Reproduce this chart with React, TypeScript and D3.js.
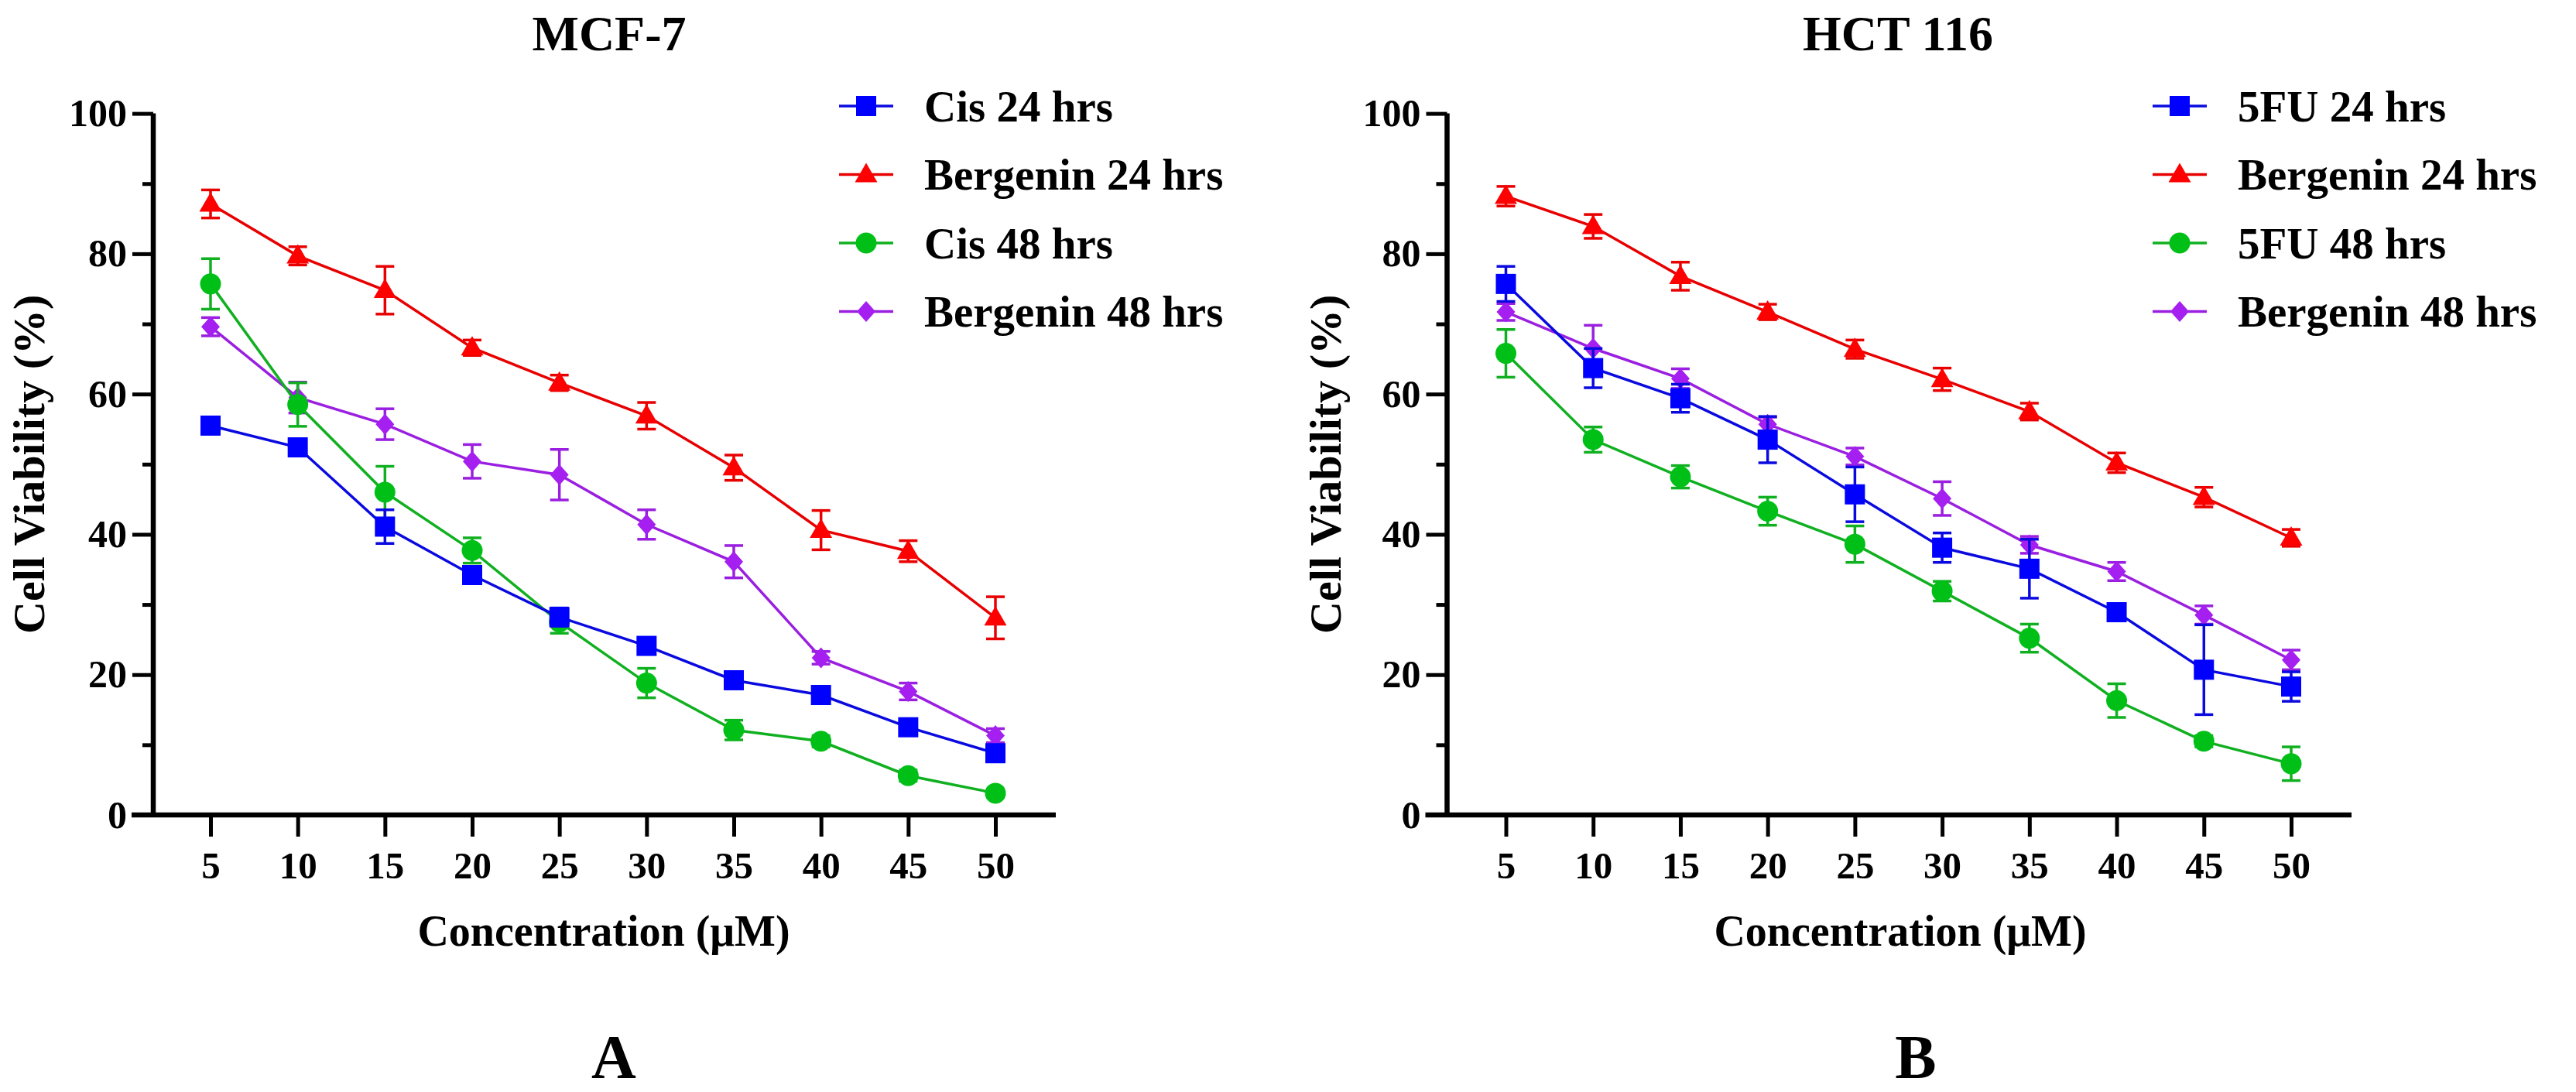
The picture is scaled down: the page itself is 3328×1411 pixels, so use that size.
import React, { useEffect, useRef } from 'react';
import * as d3 from 'd3';

// concentrations (uM)
const conc = [5, 10, 15, 20, 25, 30, 35, 40, 45, 50];
const yTicks = [0, 20, 40, 60, 80, 100];
const yMinor = [10, 30, 50, 70, 90];

// MCF-7
const cis24 = [55.5, 52.4, 41.1, 34.2, 28.2, 24.1, 19.2, 17.1, 12.5, 8.8];
const cis24Err = [0.8, 0.8, 2.4, 1.2, 1.3, 0.8, 0.8, 0.8, 0.8, 0.8];
const berA24 = [87.1, 79.7, 74.8, 66.6, 61.6, 56.9, 49.5, 40.6, 37.6, 28.1];
const berA24Err = [2.0, 1.3, 3.4, 1.1, 1.1, 1.9, 1.8, 2.8, 1.5, 3.0];
const cis48 = [75.7, 58.5, 46.0, 37.7, 27.5, 18.8, 12.1, 10.5, 5.6, 3.1];
const cis48Err = [3.6, 3.1, 3.7, 1.8, 1.6, 2.1, 1.4, 0.8, 0.8, 0.6];
const berA48 = [69.6, 59.5, 55.7, 50.4, 48.5, 41.4, 36.1, 22.4, 17.6, 11.3];
const berA48Err = [1.3, 2.2, 2.2, 2.4, 3.6, 2.1, 2.3, 0.9, 1.2, 1.0];

// HCT 116
const fu24 = [75.7, 63.7, 59.4, 53.5, 45.7, 38.1, 35.1, 28.9, 20.7, 18.3];
const fu24Err = [2.5, 2.8, 2.0, 3.3, 3.9, 2.1, 4.2, 0.8, 6.4, 2.1];
const berB24 = [88.2, 83.9, 76.8, 71.7, 66.4, 62.1, 57.5, 50.2, 45.3, 39.5];
const berB24Err = [1.4, 1.7, 2.0, 1.1, 1.3, 1.6, 1.2, 1.4, 1.4, 1.2];
const fu48 = [65.8, 53.5, 48.2, 43.3, 38.6, 31.9, 25.2, 16.3, 10.5, 7.3];
const fu48Err = [3.4, 1.8, 1.6, 2.0, 2.6, 1.4, 2.0, 2.4, 0.8, 2.4];
const berB48 = [71.7, 66.5, 62.2, 55.7, 51.1, 45.1, 38.5, 34.7, 28.5, 22.1];
const berB48Err = [1.2, 3.3, 1.4, 1.0, 1.2, 2.4, 1.2, 1.3, 1.3, 1.4];

const FONT = '"Liberation Serif", "Times New Roman", serif';

const styles = {
  square: { fill: '#0000ff', line: '#0a0ae0' },
  triangle: { fill: '#ff0000', line: '#e80000' },
  circle: { fill: '#00c018', line: '#10b020' },
  diamond: { fill: '#a41ff0', line: '#9a1fe0' },
};

function markerPath(shape) {
  if (shape === 'square') return 'M-13,-13H13V13H-13Z';
  if (shape === 'triangle') return 'M0,-15L14.5,10L-14.5,10Z';
  if (shape === 'circle') return 'M-13.5,0A13.5,13.5 0 1,0 13.5,0A13.5,13.5 0 1,0 -13.5,0Z';
  return 'M0,-13.5L12,0L0,13.5L-12,0Z';
}

function Panel({ x0, x5, x50, title, titleX, xTitleX, yTitleX, letter, letterX, legendX, series }) {
  const yAxisRef = useRef(null);
  const yMinorRef = useRef(null);
  const xAxisRef = useRef(null);

  const x = d3.scaleLinear().domain([5, 50]).range([x5, x50]);
  const y = d3.scaleLinear().domain([0, 100]).range([1053, 146.6]);

  useEffect(() => {
    const ya = d3.select(yAxisRef.current);
    ya.selectAll('*').remove();
    ya.call(d3.axisLeft(y).tickValues(yTicks).tickSize(27).tickSizeOuter(0).tickPadding(7));
    ya.select('.domain').remove();
    ya.selectAll('line').attr('stroke', '#000').attr('stroke-width', 5);
    ya.selectAll('text')
      .attr('font-family', FONT).attr('font-weight', 'bold').attr('font-size', 50).attr('fill', '#000');

    const ym = d3.select(yMinorRef.current);
    ym.selectAll('*').remove();
    ym.call(d3.axisLeft(y).tickValues(yMinor).tickSize(14).tickSizeOuter(0).tickFormat(() => ''));
    ym.select('.domain').remove();
    ym.selectAll('line').attr('stroke', '#000').attr('stroke-width', 5);

    const xa = d3.select(xAxisRef.current);
    xa.selectAll('*').remove();
    xa.call(d3.axisBottom(x).tickValues(conc).tickSize(28).tickSizeOuter(0).tickPadding(19));
    xa.select('.domain').remove();
    xa.selectAll('line').attr('stroke', '#000').attr('stroke-width', 5);
    xa.selectAll('text')
      .attr('font-family', FONT).attr('font-weight', 'bold').attr('font-size', 49).attr('fill', '#000');
  });

  const line = d3.line().x((d) => x(d[0])).y((d) => y(d[1]));

  return (
    <g>
      <text x={titleX} y={65} textAnchor="middle" fontFamily={FONT} fontWeight="bold" fontSize={64}>{title}</text>

      <g ref={yMinorRef} transform={`translate(${x0},0)`} />
      <g ref={yAxisRef} transform={`translate(${x0},0)`} />
      <g ref={xAxisRef} transform="translate(0,1053)" />
      <line x1={x0} x2={x0} y1={y(100)} y2={y(0) + 3} stroke="#000" strokeWidth={6.5} />
      <line x1={x0 - 28} x2={x50 + 78} y1={y(0)} y2={y(0)} stroke="#000" strokeWidth={6.5} />

      <text transform={`translate(${yTitleX},${(y(0) + y(100)) / 2}) rotate(-90)`} textAnchor="middle"
        fontFamily={FONT} fontWeight="bold" fontSize={58}>Cell Viability (%)</text>
      <text x={xTitleX} y={1222} textAnchor="middle" fontFamily={FONT} fontWeight="bold" fontSize={56}>Concentration (μM)</text>
      <text x={letterX} y={1393} textAnchor="middle" fontFamily={FONT} fontWeight="bold" fontSize={80}>{letter}</text>

      {series.slice().reverse().map((s) => {
        const st = styles[s.shape];
        const pts = conc.map((c, i) => [c, s.values[i]]);
        return (
          <g key={s.name}>
            <path d={line(pts)} fill="none" stroke={st.line} strokeWidth={3.5} />
            {pts.map((p, i) => {
              const cx = x(p[0]);
              const hi = y(p[1] + s.err[i]);
              const lo = y(p[1] - s.err[i]);
              return (
                <g key={i} stroke={st.line} strokeWidth={3.5}>
                  <line x1={cx} x2={cx} y1={hi} y2={lo} />
                  <line x1={cx - 12} x2={cx + 12} y1={hi} y2={hi} />
                  <line x1={cx - 12} x2={cx + 12} y1={lo} y2={lo} />
                </g>
              );
            })}
            {pts.map((p, i) => (
              <path key={'m' + i} d={markerPath(s.shape)} fill={st.fill}
                transform={`translate(${x(p[0])},${y(p[1])})`} />
            ))}
          </g>
        );
      })}

      {series.map((s, i) => {
        const st = styles[s.shape];
        const ly = 137 + i * 88.5;
        return (
          <g key={'leg' + s.name}>
            <line x1={legendX} x2={legendX + 70} y1={ly} y2={ly} stroke={st.line} strokeWidth={3.5} />
            <path d={markerPath(s.shape)} fill={st.fill} transform={`translate(${legendX + 35},${ly})`} />
            <text x={legendX + 110} y={ly} dy="0.35em" fontFamily={FONT} fontWeight="bold" fontSize={57}>{s.name}</text>
          </g>
        );
      })}
    </g>
  );
}

export default function App() {
  const seriesA = [
    { name: 'Cis 24 hrs', shape: 'square', values: cis24, err: cis24Err },
    { name: 'Bergenin 24 hrs', shape: 'triangle', values: berA24, err: berA24Err },
    { name: 'Cis 48 hrs', shape: 'circle', values: cis48, err: cis48Err },
    { name: 'Bergenin 48 hrs', shape: 'diamond', values: berA48, err: berA48Err },
  ];
  const seriesB = [
    { name: '5FU 24 hrs', shape: 'square', values: fu24, err: fu24Err },
    { name: 'Bergenin 24 hrs', shape: 'triangle', values: berB24, err: berB24Err },
    { name: '5FU 48 hrs', shape: 'circle', values: fu48, err: fu48Err },
    { name: 'Bergenin 48 hrs', shape: 'diamond', values: berB48, err: berB48Err },
  ];
  return (
    <svg width={3328} height={1411} style={{ position: 'absolute', left: 0, top: 0, background: '#fff' }}>
      <rect width={3328} height={1411} fill="#fff" />
      <Panel x0={198} x5={272} x50={1286} title="MCF-7" titleX={787} xTitleX={780} yTitleX={57}
        letter="A" letterX={793} legendX={1084} series={seriesA} />
      <Panel x0={1869.5} x5={1945.5} x50={2960} title="HCT 116" titleX={2452} xTitleX={2455} yTitleX={1732}
        letter="B" letterX={2475} legendX={2781} series={seriesB} />
    </svg>
  );
}
